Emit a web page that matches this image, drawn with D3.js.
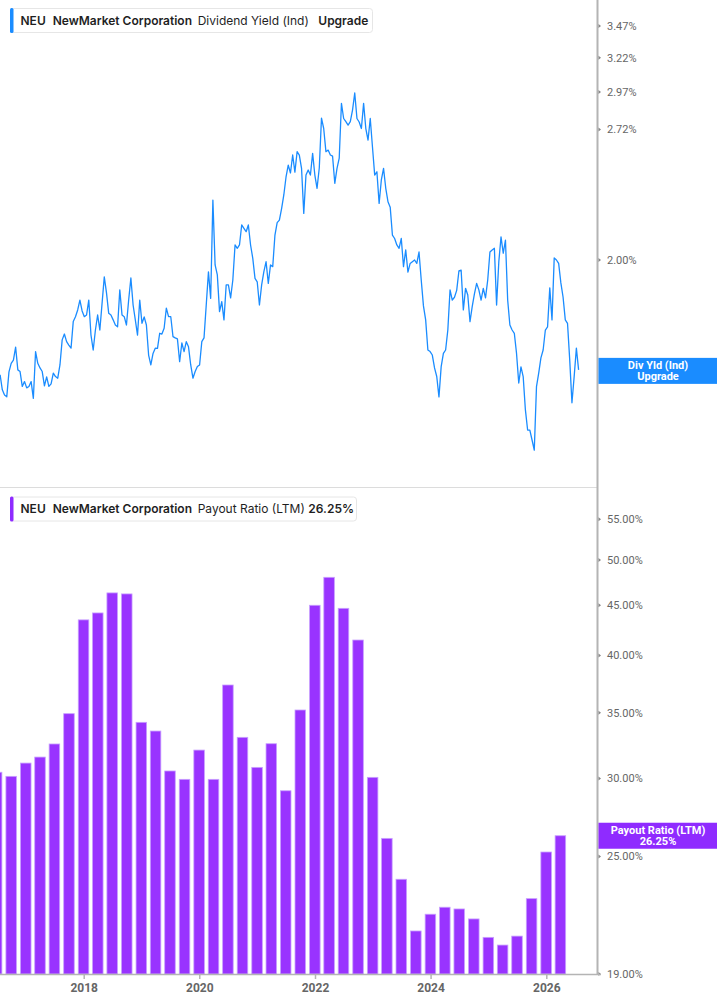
<!DOCTYPE html>
<html><head><meta charset="utf-8">
<script src="https://cdn.jsdelivr.net/npm/d3@7"></script>
<style>
html,body{margin:0;padding:0;background:#fff;}
svg{display:block;}
</style></head>
<body>
<svg id="chart" width="717" height="1005"></svg>
<script>
// ---------- DATA ----------
const ticker = "NEU";
const company = "NewMarket Corporation";
const topMetric = "Dividend Yield (Ind)";
const topValueText = "Upgrade";
const bottomMetric = "Payout Ratio (LTM)";
const bottomValueText = "26.25%";

// Dividend yield (%), one reading every 14 days starting at yieldStart
const yieldStart = "2016-07-22";
const divYield = [
1.526,1.473,1.455,1.449,1.537,1.568,1.580,1.629,1.544,1.538,
1.485,1.502,1.480,1.485,1.502,1.444,1.612,1.568,1.551,1.538,
1.487,1.519,1.485,1.494,1.532,1.520,1.514,1.562,1.657,1.680,
1.650,1.637,1.625,1.730,1.750,1.778,1.820,1.774,1.750,1.757,
1.820,1.676,1.618,1.696,1.757,1.696,1.806,1.922,1.851,1.764,
1.757,1.737,1.716,1.709,1.864,1.757,1.750,1.716,1.820,1.917,
1.799,1.737,1.676,1.820,1.723,1.749,1.716,1.599,1.562,1.605,
1.625,1.624,1.683,1.680,1.703,1.786,1.750,1.750,1.670,1.665,
1.661,1.574,1.645,1.612,1.650,1.630,1.562,1.514,1.538,1.556,
1.562,1.650,1.665,1.799,1.945,1.827,2.303,1.977,1.931,1.771,
1.813,1.737,1.886,1.886,1.829,1.908,2.072,2.056,2.072,2.172,
2.155,2.138,2.172,2.072,2.008,1.915,1.900,1.799,1.886,1.946,
1.992,1.893,1.977,1.969,2.121,2.184,2.197,2.257,2.331,2.432,
2.501,2.455,2.561,2.460,2.581,2.561,2.482,2.232,2.443,2.472,
2.443,2.571,2.443,2.368,2.484,2.794,2.726,2.581,2.591,2.561,
2.554,2.396,2.482,2.543,2.892,2.791,2.770,2.748,2.770,2.847,
2.964,2.791,2.768,2.726,2.892,2.726,2.653,2.791,2.610,2.443,
2.462,2.285,2.415,2.482,2.368,2.294,2.265,2.121,2.104,2.072,
2.056,2.104,1.969,2.048,1.944,1.984,1.992,2.000,1.984,2.038,
1.908,1.795,1.737,1.618,1.612,1.599,1.551,1.520,1.449,1.556,
1.605,1.618,1.696,1.864,1.820,1.832,1.862,1.949,1.953,1.778,
1.871,1.842,1.730,1.792,1.847,1.893,1.864,1.820,1.871,1.829,
1.908,2.038,2.048,2.056,1.799,1.991,2.112,2.032,2.096,1.820,
1.716,1.696,1.683,1.605,1.497,1.555,1.520,1.405,1.340,1.340,
1.309,1.278,1.484,1.532,1.588,1.618,1.696,1.709,1.873,1.737,
2.010,2.000,1.984,1.895,1.832,1.737,1.723,1.580,1.429,1.520,
1.625,1.544
];

// Payout ratio (LTM, %) per quarter end
const payoutDates = [
"2016-06-30","2016-09-30","2016-12-31","2017-03-31","2017-06-30","2017-09-30","2017-12-31",
"2018-03-31","2018-06-30","2018-09-30","2018-12-31","2019-03-31","2019-06-30","2019-09-30",
"2019-12-31","2020-03-31","2020-06-30","2020-09-30","2020-12-31","2021-03-31","2021-06-30",
"2021-09-30","2021-12-31","2022-03-31","2022-06-30","2022-09-30","2022-12-31","2023-03-31",
"2023-06-30","2023-09-30","2023-12-31","2024-03-31","2024-06-30","2024-09-30","2024-12-31",
"2025-03-31","2025-06-30","2025-09-30","2025-12-31","2026-03-31"
];
const payoutRatio = [
30.45,30.16,31.11,31.55,32.53,34.92,43.48,
44.19,46.31,46.20,34.22,33.53,30.54,29.95,
32.07,29.95,37.34,33.04,30.80,32.55,29.16,
35.22,44.99,48.03,44.67,41.48,30.09,26.09,
23.71,21.01,21.85,22.21,22.12,21.61,20.70,
20.33,20.76,22.66,25.27,26.25
];

const yieldTicks = [2.00, 2.72, 2.97, 3.22, 3.47];
const payoutTicks = [19, 25, 30, 35, 40, 45, 50, 55];
const yearTicks = ["2018","2020","2022","2024","2026"];

// ---------- DRAW ----------
const svg = d3.select("#chart");
const W = 717;
const plotRight = 597;
const parse = d3.timeParse("%Y-%m-%d");

const x = d3.scaleTime()
  .domain([parse("2018-01-01"), parse("2026-01-01")])
  .range([83.7, 546.3]);

const yTop = d3.scaleLog().domain([1.1718, 3.6895]).range([487, 0]);
const yBot = d3.scaleLog().domain([19, 59.32]).range([974, 487]);

const blue = "#1a8cff";
const purple = "#9933ff";
const axisGrey = "#b4b4b4";
const labelGrey = "#666";

const start = parse(yieldStart);
const yieldData = divYield.map((v, i) => ({d: d3.timeDay.offset(start, 14 * i), v}));
const payoutData = payoutDates.map((s, i) => ({d: parse(s), v: payoutRatio[i]}));

// clip paths
const defs = svg.append("defs");
defs.append("clipPath").attr("id","clipTop").append("rect")
  .attr("x",0).attr("y",0).attr("width",plotRight).attr("height",487);
defs.append("clipPath").attr("id","clipBot").append("rect")
  .attr("x",0).attr("y",487).attr("width",plotRight).attr("height",487);

// separator between panels
svg.append("line").attr("x1",0).attr("x2",plotRight).attr("y1",487.5).attr("y2",487.5)
  .attr("stroke","#dcdcdc").attr("stroke-width",1);

// ---- Top panel: line ----
const line = d3.line().x(d => x(d.d)).y(d => yTop(d.v)).curve(d3.curveLinear);
svg.append("path").datum(yieldData)
  .attr("clip-path","url(#clipTop)")
  .attr("fill","none").attr("stroke",blue).attr("stroke-width",1.3)
  .attr("stroke-linejoin","round")
  .attr("d", line);

// ---- Bottom panel: bars ----
const qWidth = x(parse("2018-04-01")) - x(parse("2018-01-01"));
const bw = qWidth * 0.74;
svg.append("g").attr("clip-path","url(#clipBot)")
  .selectAll("rect").data(payoutData).join("rect")
  .attr("x", d => x(d.d) - bw/2)
  .attr("width", bw)
  .attr("y", d => yBot(d.v))
  .attr("height", d => yBot(19) - yBot(d.v))
  .attr("fill", purple)
  .attr("stroke", "#c8a0ff").attr("stroke-width", 0.8);

// ---- Right axis line ----
svg.append("line").attr("x1",plotRight+0.5).attr("x2",plotRight+0.5).attr("y1",0).attr("y2",975)
  .attr("stroke",axisGrey).attr("stroke-width",2);

function drawRightTicks(scale, ticks, fmt){
  const g = svg.append("g");
  ticks.forEach(t => {
    const yy = scale(t);
    g.append("path")
      .attr("d", `M${plotRight+1.5},${yy-2}L${plotRight+4},${yy}L${plotRight+1.5},${yy+2}Z`)
      .attr("fill","#888");
    g.append("text").attr("x", 607).attr("y", yy)
      .attr("dy","0.35em")
      .attr("font-family","Roboto, 'Liberation Sans', Arial, sans-serif")
      .attr("font-size", 11).attr("fill", labelGrey)
      .text(fmt(t));
  });
}
drawRightTicks(yTop, yieldTicks, d => d3.format(".2f")(d) + "%");
drawRightTicks(yBot, payoutTicks, d => d3.format(".2f")(d) + "%");

// ---- Bottom x axis ----
svg.append("line").attr("x1",0).attr("x2",plotRight+4).attr("y1",974.5).attr("y2",974.5)
  .attr("stroke",axisGrey).attr("stroke-width",1.5);
const xAxis = d3.axisBottom(x)
  .tickValues(yearTicks.map(s => parse(s + "-01-01")))
  .tickFormat(d3.timeFormat("%Y"))
  .tickSize(5).tickPadding(4);
const gx = svg.append("g").attr("transform","translate(0,974)").call(xAxis);
gx.select(".domain").remove();
gx.selectAll(".tick line").attr("stroke", axisGrey).attr("stroke-width",1.5);
gx.selectAll(".tick text")
  .attr("font-family","Roboto, 'Liberation Sans', Arial, sans-serif")
  .attr("font-size",12).attr("font-weight","bold").attr("fill",labelGrey);

// ---- Legends ----
function legend(y0, color, parts, width){
  const g = svg.append("g");
  g.append("rect").attr("x",10.5).attr("y",y0+0.5).attr("width",width).attr("height",24)
    .attr("rx",3).attr("fill","#fff").attr("stroke","#e6e6e6");
  g.append("rect").attr("x",10).attr("y",y0).attr("width",3.5).attr("height",25)
    .attr("rx",1.5).attr("fill",color);
  parts.forEach(p => {
    g.append("text").attr("x",p.x).attr("y",y0+12.5).attr("dy","0.35em")
      .attr("font-family","Inter, 'Noto Sans', sans-serif")
      .attr("font-size",12).attr("font-weight",p.bold ? 600 : 400)
      .attr("fill","#1f1f1f").text(p.t);
  });
}
legend(8, blue, [
  {t: ticker, x: 20.5, bold: true},
  {t: company, x: 52.7, bold: true},
  {t: topMetric, x: 197.7, bold: false},
  {t: topValueText, x: 318.3, bold: true}
], 362);
legend(496.5, "#8f2bff", [
  {t: ticker, x: 20.5, bold: true},
  {t: company, x: 52.7, bold: true},
  {t: bottomMetric, x: 197.7, bold: false},
  {t: bottomValueText, x: 308.3, bold: true}
], 346);

// ---- Right value labels ----
function valueLabel(yc, color, l1, l2){
  const g = svg.append("g");
  g.append("rect").attr("x",plotRight+1.5).attr("y",yc-13).attr("width",W-plotRight).attr("height",26)
    .attr("fill",color);
  [l1,l2].forEach((t,i) => {
    g.append("text").attr("x",658).attr("y",yc-5.5+i*11).attr("dy","0.35em")
      .attr("text-anchor","middle")
      .attr("font-family","Roboto, 'Liberation Sans', Arial, sans-serif")
      .attr("font-size",11).attr("font-weight","bold").attr("fill","#fff").text(t);
  });
}
valueLabel(yTop(divYield[divYield.length-1]) + 1, "#1a8cff", "Div Yld (Ind)", topValueText);
valueLabel(yBot(payoutRatio[payoutRatio.length-1]), "#8f2bff", bottomMetric, bottomValueText);
</script>
</body></html>
